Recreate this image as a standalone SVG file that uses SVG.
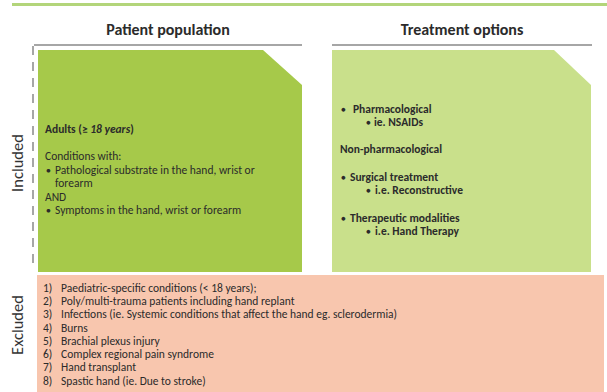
<svg xmlns="http://www.w3.org/2000/svg" width="607" height="392" viewBox="0 0 607 392">
<style>
text{font-family:Carlito,Lato,"Liberation Sans",sans-serif;fill:#2b2b2b}
.h{font-size:16px;font-weight:bold;text-anchor:middle}
.side{font-size:16.5px;text-anchor:middle;fill:#333}
.t{font-size:11.5px}
.b{font-size:11.5px;font-weight:bold}
.bu{font-size:8px}
.gray{stroke:#a6a6a6;stroke-width:2;fill:none}
</style>
<rect width="607" height="392" fill="#ffffff"/>
<line x1="12" y1="4.5" x2="607" y2="4.5" stroke="#b3d57a" stroke-width="3"/>
<g id="headings">
<text class="h" x="168" y="35">Patient population</text>
<text class="h" x="462" y="35">Treatment options</text>
</g>
<g id="connectors">
<line class="gray" x1="34" y1="45" x2="302" y2="45"/>
<line class="gray" x1="332" y1="45" x2="592" y2="45"/>
<line class="gray" x1="33" y1="46" x2="33" y2="268" stroke-dasharray="9 7" stroke="#999999"/>
</g>
<g id="labels">
<text class="side" transform="translate(23,163) rotate(-90)">Included</text>
<text class="side" transform="translate(23,325) rotate(-90)">Excluded</text>
</g>
<g id="patient-population">
<polygon points="38,50 263,50 302,85 302,272 38,272" fill="#a6c94a"/>
<text class="b" x="45" y="133">Adults (≥ <tspan font-style="italic">18 years</tspan>)</text>
<text class="t" x="45" y="160">Conditions with:</text>
<text class="t bu" x="46" y="173">●</text>
<text class="t" x="55" y="174">Pathological substrate in the hand, wrist or</text>
<text class="t" x="55" y="187">forearm</text>
<text class="t" x="45" y="201">AND</text>
<text class="t bu" x="46" y="213">●</text>
<text class="t" x="55" y="214">Symptoms in the hand, wrist or forearm</text>
</g>
<g id="treatment-options">
<polygon points="332,50 554,50 591,85 591,272 332,272" fill="#c9e08b"/>
<text class="b bu" x="341" y="112">●</text>
<text class="b" x="353" y="113">Pharmacological</text>
<text class="b bu" x="366" y="125">●</text>
<text class="b" x="374" y="126">ie. NSAIDs</text>
<text class="b" x="340" y="153">Non-pharmacological</text>
<text class="b bu" x="341" y="180">●</text>
<text class="b" x="350" y="181">Surgical treatment</text>
<text class="b bu" x="366" y="193">●</text>
<text class="b" x="375" y="194">i.e. Reconstructive</text>
<text class="b bu" x="341" y="221">●</text>
<text class="b" x="350" y="222">Therapeutic modalities</text>
<text class="b bu" x="366" y="234">●</text>
<text class="b" x="375" y="235">i.e. Hand Therapy</text>
</g>
<g id="excluded">
<rect x="37" y="275" width="567" height="117" fill="#f8c6ae"/>
<text class="t" x="43" y="292">1)</text><text class="t" x="61" y="292">Paediatric-specific conditions (&lt; 18 years);</text>
<text class="t" x="43" y="305">2)</text><text class="t" x="61" y="305">Poly/multi-trauma patients including hand replant</text>
<text class="t" x="43" y="318">3)</text><text class="t" x="61" y="318">Infections (ie. Systemic conditions that affect the hand eg. sclerodermia)</text>
<text class="t" x="43" y="332">4)</text><text class="t" x="61" y="332">Burns</text>
<text class="t" x="43" y="345">5)</text><text class="t" x="61" y="345">Brachial plexus injury</text>
<text class="t" x="43" y="358">6)</text><text class="t" x="61" y="358">Complex regional pain syndrome</text>
<text class="t" x="43" y="371">7)</text><text class="t" x="61" y="371">Hand transplant</text>
<text class="t" x="43" y="385">8)</text><text class="t" x="61" y="385">Spastic hand (ie. Due to stroke)</text>
</g>
</svg>
